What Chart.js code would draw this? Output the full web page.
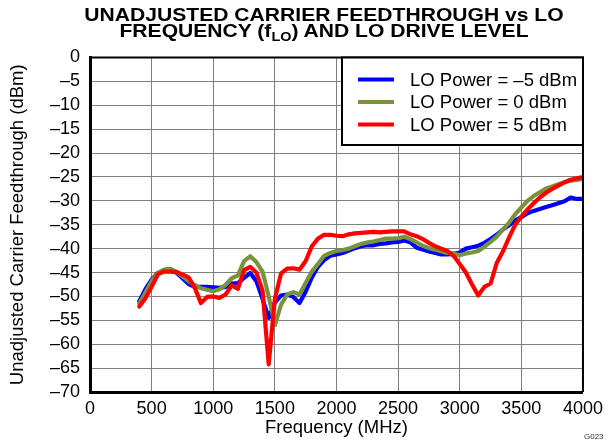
<!DOCTYPE html>
<html lang="en">

<head>
  <meta charset="UTF-8">
  <script src="https://cdn.jsdelivr.net/npm/chart.js"></script>
  <style>
    body { margin: 0; background: #fff; }
    .wrap { position: relative; width: 609px; height: 445px; overflow: hidden; }
    #grafico { position: absolute; left: 0; top: 0; }
    .titulo {
      position: absolute; top: 7px; left: 0; width: 648px; text-align: center;
      font: bold 19px "Liberation Sans", Arial, sans-serif; line-height: 15.5px; color: #000;
      transform: scaleX(1.11); transform-origin: 324px 0;
    }
    .titulo sub { font-size: 13px; line-height: 0; vertical-align: -4px; }
    .codigo {
      position: absolute; left: 584px; top: 432px;
      font: 8px "Liberation Sans", Arial, sans-serif; color: #333;
    }
  </style>
  <title>Carrier Feedthrough</title>
</head>

<body>
  <div class="wrap">
    <canvas id="grafico" width="609" height="445"></canvas>
    <div class="titulo">UNADJUSTED CARRIER FEEDTHROUGH vs LO<br>FREQUENCY (f<sub>LO</sub>) AND LO DRIVE LEVEL</div>
    <div class="codigo">G023</div>
  </div>

<script>
  // frequencia (MHz)
  const freq = [400, 450, 500, 550, 600, 650, 700, 750, 800, 850, 900, 950, 1000, 1050, 1100, 1150, 1200, 1250,
    1300, 1350, 1400, 1450, 1500, 1550, 1600, 1650, 1700, 1750, 1800, 1850, 1900, 1950, 2000, 2050, 2100, 2150,
    2200, 2250, 2300, 2350, 2400, 2450, 2500, 2550, 2600, 2650, 2700, 2750, 2800, 2850, 2900, 2950, 3000, 3050,
    3100, 3150, 3200, 3250, 3300, 3350, 3400, 3450, 3500, 3550, 3600, 3650, 3700, 3750, 3800, 3850, 3900, 3950, 4000];

  // LO Power = -5 dBm
  const loMenos5 = [-51, -48.5, -46.5, -45.1, -44.6, -44.4, -45, -46.2, -47.4, -48, -48, -48, -48.1, -48.2, -48, -47.3,
    -47.2, -46.1, -45.1, -46.8, -50.5, -54.5, -51.3, -49.8, -49.6, -50.1, -51.4, -49, -46, -43.8, -42.4, -41.5, -41.2,
    -40.9, -40.4, -39.9, -39.5, -39.3, -39.3, -39, -38.9, -38.7, -38.6, -38.3, -38.7, -39.8, -40.2, -40.6, -40.9, -41.2,
    -41.2, -41.1, -40.8, -40, -39.7, -39.4, -38.8, -38, -37.1, -36, -35.1, -34.1, -33.4, -32.6, -32.1, -31.7, -31.3,
    -30.9, -30.5, -30.1, -29.3, -29.6, -29.6];

  // LO Power = 0 dBm
  const lo0 = [-51.5, -49.2, -46.8, -45.1, -44.4, -44.2, -44.8, -45.8, -46.8, -47.6, -48.3, -48.6, -48.9, -48.5, -47.6,
    -46.2, -45.6, -42.6, -41.6, -42.8, -44.8, -50, -56, -51.7, -49.6, -49.1, -49.6, -47.2, -44.8, -43.2, -41.5, -40.9,
    -40.5, -40.3, -40, -39.5, -39, -38.7, -38.5, -38.2, -37.9, -37.9, -37.8, -37.5, -38, -38.7, -39.4, -39.9, -40.2,
    -40.6, -40.9, -41, -41.4, -41, -40.8, -40.5, -39.6, -38.6, -37.5, -36, -34.6, -32.8, -31.4, -30, -29, -28.2, -27.4,
    -27, -26.5, -26.1, -25.8, -25.6, -25.4];

  // LO Power = 5 dBm
  const lo5 = [-52.1, -50.4, -48, -45.4, -44.8, -44.8, -44.9, -45.4, -46, -48.2, -51.4, -50.1, -50, -50.3, -49.6, -47.7,
    -48.4, -44.5, -43.8, -45, -48.8, -64.2, -50.5, -45.2, -44.2, -44.1, -44.4, -42.6, -39.5, -37.9, -37.1, -37.1, -37.3,
    -37.4, -37, -36.8, -36.7, -36.6, -36.5, -36.6, -36.5, -36.4, -36.4, -36.4, -37, -37.4, -38, -38.8, -39.5, -40, -40.5,
    -41.5, -43.2, -45, -47.5, -49.8, -48, -47.3, -43, -40.6, -37.7, -35, -33.3, -31.8, -30.5, -29.3, -28.3, -27.5, -26.8,
    -26.1, -25.6, -25.3, -25];

  const nomes = ['LO Power = –5 dBm', 'LO Power = 0 dBm', 'LO Power = 5 dBm'];
  const cores = ['#0000FF', '#77933C', '#FF0000'];

  function pontos(valores) {
    return freq.map((f, i) => ({ x: f, y: valores[i] }));
  }

  const fonte = '"Liberation Sans", Arial, sans-serif';

  // borda de cima/direita + legenda dentro da area
  const extras = {
    id: 'extras',
    afterDatasetsDraw(chart) {
      const ctx = chart.ctx;
      const a = chart.chartArea;
      ctx.save();
      ctx.strokeStyle = '#000';
      ctx.lineWidth = 2;
      ctx.beginPath();
      ctx.moveTo(a.left, a.top);
      ctx.lineTo(a.right, a.top);
      ctx.lineTo(a.right, a.bottom);
      ctx.stroke();

      // legenda
      const lx = 342, ly = a.top, lw = a.right - 342, lh = 145 - a.top;
      ctx.fillStyle = '#fff';
      ctx.fillRect(lx, ly, lw, lh);
      ctx.lineWidth = 2;
      ctx.strokeRect(lx, ly, lw, lh);
      const linhas = [79.5, 102, 124.5];
      ctx.font = '18.5px ' + fonte;
      ctx.textBaseline = 'middle';
      chart.data.datasets.forEach((ds, i) => {
        ctx.strokeStyle = ds.borderColor;
        ctx.lineWidth = 4;
        ctx.beginPath();
        ctx.moveTo(358, linhas[i]);
        ctx.lineTo(394, linhas[i]);
        ctx.stroke();
        ctx.fillStyle = '#000';
        ctx.fillText(ds.label, 410, linhas[i] + 1);
      });
      ctx.restore();
    }
  };

  const ctx = document.getElementById('grafico').getContext('2d');

  const grafico = new Chart(ctx, {
    type: 'line',
    data: {
      datasets: [
        { label: nomes[0], data: pontos(loMenos5), borderColor: cores[0], order: 3 },
        { label: nomes[1], data: pontos(lo0), borderColor: cores[1], order: 2 },
        { label: nomes[2], data: pontos(lo5), borderColor: cores[2], order: 1 }
      ]
    },
    options: {
      responsive: false,
      animation: false,
      devicePixelRatio: 1,
      layout: { padding: { top: 57.5, right: 23, left: 0, bottom: 0 } },
      elements: {
        point: { radius: 0 },
        line: { borderWidth: 4.2, tension: 0, borderJoinStyle: 'round', borderCapStyle: 'round' }
      },
      plugins: {
        legend: { display: false },
        tooltip: { enabled: false },
        title: { display: false }
      },
      scales: {
        x: {
          type: 'linear',
          min: 0,
          max: 4000,
          afterFit(scale) { scale.height = 53; },
          ticks: {
            stepSize: 500,
            padding: 6,
            autoSkip: false,
            color: '#000',
            font: { family: fonte, size: 18 },
            maxRotation: 0,
            callback: (v) => String(v)
          },
          grid: { color: '#808080', lineWidth: 1, drawTicks: false },
          border: { color: '#000', width: 3 },
          title: {
            display: true,
            text: 'Frequency (MHz)',
            color: '#000',
            font: { family: fonte, size: 18.5 },
            padding: { top: 0, bottom: 6 }
          }
        },
        y: {
          min: -70,
          max: 0,
          afterFit(scale) { scale.width = 90; },
          ticks: {
            stepSize: 5,
            padding: 10,
            autoSkip: false,
            color: '#000',
            font: { family: fonte, size: 18 },
            callback: (v) => String(v).replace('-', '–')
          },
          grid: { color: '#808080', lineWidth: 1, drawTicks: false },
          border: { color: '#000', width: 3 },
          title: {
            display: true,
            text: 'Unadjusted Carrier Feedthrough (dBm)',
            color: '#000',
            font: { family: fonte, size: 18.5 },
            padding: { top: 7, bottom: 0 }
          }
        }
      }
    },
    plugins: [extras]
  });
</script>
</body>

</html>
